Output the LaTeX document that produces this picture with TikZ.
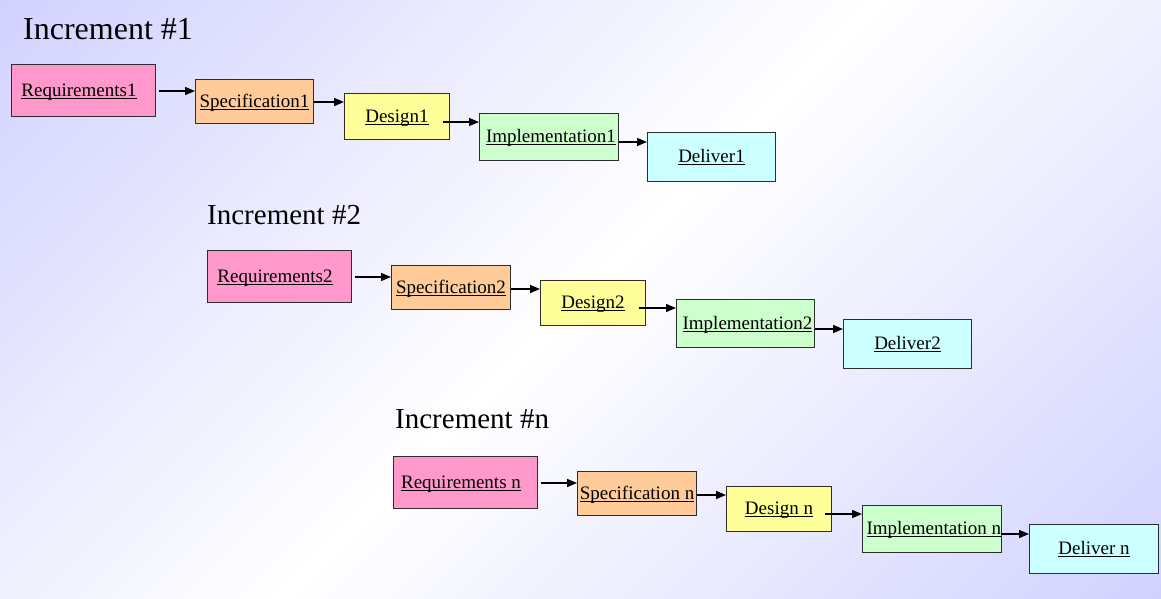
\documentclass[tikz,border=0pt]{standalone}
\usepackage{fontspec}
\setmainfont{Liberation Serif}
\usetikzlibrary{arrows.meta,calc}
\definecolor{lav}{RGB}{210,210,255}
\definecolor{reqc}{HTML}{FF99CC}
\definecolor{specc}{HTML}{FFCC99}
\definecolor{desc}{HTML}{FFFF99}
\definecolor{impc}{HTML}{CCFFCC}
\definecolor{delc}{HTML}{CCFFFF}
\definecolor{edge}{RGB}{45,45,45}
\tikzset{
  stagebox/.style={draw=edge, line width=1pt, inner sep=0pt, anchor=north west,
    font=\fontsize{19}{22}\selectfont, text=black, text height=14pt, text depth=3pt},
  arr/.style={-{Triangle[length=10pt,width=8pt]}, line width=1.4pt, black},
  bigtitle/.style={anchor=base west, inner sep=0pt, font=\fontsize{32}{36}\selectfont},
  midtitle/.style={anchor=base west, inner sep=0pt, font=\fontsize{29}{33}\selectfont}
}
\newcommand{\ul}[1]{\setbox0\hbox{#1}\rlap{\rule[-2.6pt]{\wd0}{1pt}}\box0}
\begin{document}
\begin{tikzpicture}[x=1pt,y=-1pt]
\useasboundingbox (0,0) rectangle (1161,598);
\begin{scope}
  \clip (0,0) rectangle (1161,598);
  \shade[top color=lav, bottom color=lav, middle color=white, shading angle=45]
    (-238,-123) rectangle (1399,721);
\end{scope}

% titles
\node[bigtitle] (t1) at (23,39) {Increment \#1};
\node[midtitle] (t2) at (207,224) {Increment \#2};
\node[midtitle] (t3) at (395,428) {Increment \#n};

% row 1
\node[stagebox, fill=reqc, minimum width=144pt, minimum height=52pt] (r1) at (11,64) {\hspace*{-9pt}\ul{Requirements1}};
\node[stagebox, fill=specc, minimum width=118pt, minimum height=44pt] (s1) at (195,79) {\ul{Specification1}};
\node[stagebox, fill=desc, minimum width=105pt, minimum height=46pt] (d1) at (344,93) {\ul{Design1}};
\node[stagebox, fill=impc, minimum width=139pt, minimum height=47pt] (i1) at (479,113) {\hspace*{4pt}\ul{Implementation1}};
\node[stagebox, fill=delc, minimum width=128pt, minimum height=49pt] (v1) at (647,132) {\ul{Deliver1}};

% row 2
\node[stagebox, fill=reqc, minimum width=144pt, minimum height=52pt] (r2) at (207,250) {\hspace*{-9pt}\ul{Requirements2}};
\node[stagebox, fill=specc, minimum width=119pt, minimum height=44pt] (s2) at (391,265) {\ul{Specification2}};
\node[stagebox, fill=desc, minimum width=105pt, minimum height=45pt] (d2) at (540,280) {\ul{Design2}};
\node[stagebox, fill=impc, minimum width=138pt, minimum height=48pt] (i2) at (676,299) {\hspace*{4pt}\ul{Implementation2}};
\node[stagebox, fill=delc, minimum width=128pt, minimum height=49pt] (v2) at (843,319) {\ul{Deliver2}};

% row 3
\node[stagebox, fill=reqc, minimum width=144pt, minimum height=52pt] (r3) at (393,456) {\hspace*{-9pt}\ul{Requirements n}};
\node[stagebox, fill=specc, minimum width=119pt, minimum height=44pt] (s3) at (577,471) {\ul{Specification n}};
\node[stagebox, fill=desc, minimum width=105pt, minimum height=45pt] (d3) at (726,486) {\ul{Design n}};
\node[stagebox, fill=impc, minimum width=138pt, minimum height=47pt] (i3) at (862,505) {\hspace*{4pt}\ul{Implementation n}};
\node[stagebox, fill=delc, minimum width=129pt, minimum height=49pt] (v3) at (1029,524) {\ul{Deliver n}};

% arrows
\foreach \k in {1,2,3}{
  \draw[arr] ($(r\k.east |- s\k.north)+(3,12)$) -- ($(s\k.north west)+(0,12)$);
  \draw[arr] ($(s\k.east |- d\k.north)+(0,9)$) -- ($(d\k.north west)+(0,9)$);
  \draw[arr] ($(d\k.east |- i\k.north)+(-7,9)$) -- ($(i\k.north west)+(0,9)$);
  \draw[arr] ($(i\k.east |- v\k.north)+(0,10)$) -- ($(v\k.north west)+(0,10)$);
}
\end{tikzpicture}
\end{document}
